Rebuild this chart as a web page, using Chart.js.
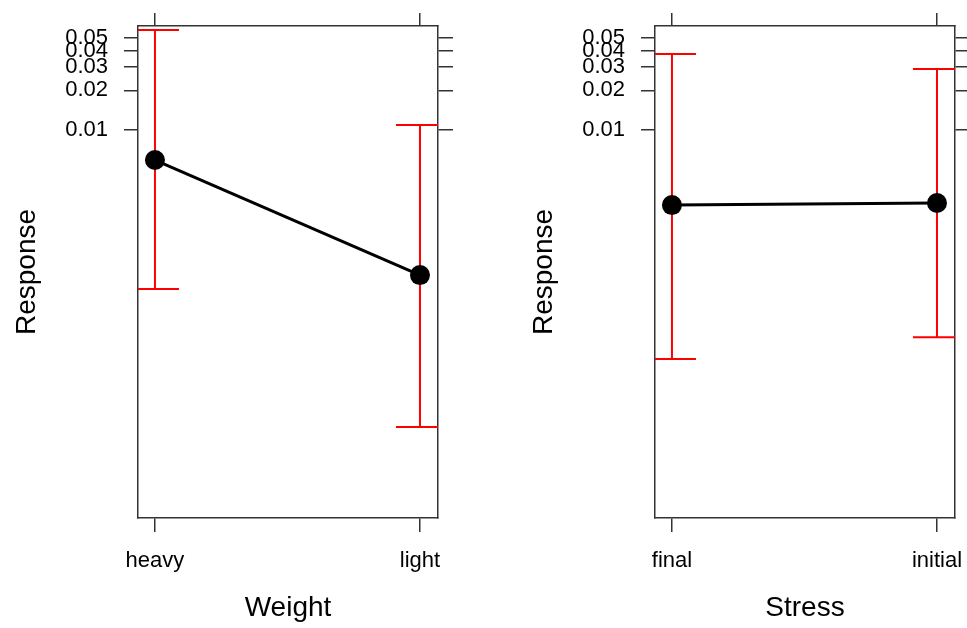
<!DOCTYPE html>
<html>
<head>
<meta charset="utf-8">
<script src="https://cdn.jsdelivr.net/npm/chart.js@4/dist/chart.umd.min.js"></script>
<style>
  html, body { margin: 0; padding: 0; background: #fff; overflow: hidden; width: 967px; height: 628px; }
  canvas { position: absolute; top: 0; }
  #c1 { left: 0; }
  #c2 { left: 517px; }
</style>
</head>
<body>
<canvas id="c1" width="517" height="628"></canvas>
<canvas id="c2" width="470" height="628"></canvas>
<script>
// ---- data ----
const weightCats = ['heavy', 'light'];
const weightFit = [0.00592, 0.000791];
const weightLower = [0.000619, 0.0000554];
const weightUpper = [0.0575, 0.0109];

const stressCats = ['final', 'initial'];
const stressFit = [0.00269, 0.00279];
const stressLower = [0.000182, 0.000267];
const stressUpper = [0.0378, 0.0291];

const yTickValues = [0.01, 0.02, 0.03, 0.04, 0.05];
const yRange = [1.13e-5, 0.0617];
const xRange = [-0.064, 1.068];
const yTitle = 'Response';

Chart.defaults.font.family = "'Liberation Sans', Arial, Helvetica, sans-serif";
Chart.defaults.color = '#000';

const AXIS = '#333';

function makePanel(id, cats, fit, lower, upper, xTitle, rightWidth) {
  const errorBars = {
    id: 'errorBars' + id,
    beforeDatasetsDraw(chart) {
      const { ctx, chartArea, scales } = chart;
      const x = scales.x, y = scales.y;
      const cap = 24;
      ctx.save();
      ctx.beginPath();
      ctx.rect(chartArea.left, chartArea.top, chartArea.right - chartArea.left, chartArea.bottom - chartArea.top);
      ctx.clip();
      ctx.strokeStyle = '#ff0000';
      ctx.lineWidth = 2;
      cats.forEach((c, i) => {
        const px = x.getPixelForValue(i);
        const yl = y.getPixelForValue(lower[i]);
        const yh = y.getPixelForValue(upper[i]);
        ctx.beginPath();
        ctx.moveTo(px, yl); ctx.lineTo(px, yh);
        ctx.moveTo(px - cap, yl); ctx.lineTo(px + cap, yl);
        ctx.moveTo(px - cap, yh); ctx.lineTo(px + cap, yh);
        ctx.stroke();
      });
      ctx.restore();
    }
  };

  const catTicks = (s) => { s.ticks = cats.map((c, i) => ({ value: i })); };
  const yTicks = (s) => { s.ticks = yTickValues.map(v => ({ value: v })); };
  const gridMarks = (len) => ({
    display: true, drawOnChartArea: false, drawTicks: true,
    tickLength: len, color: AXIS, lineWidth: 1.5
  });
  const border = { display: true, color: AXIS, width: 1.5 };
  const fixH = (h) => (s) => { s.height = h; s.paddingLeft = 0; s.paddingRight = 0; };
  const fixW = (w) => (s) => { s.width = w; s.paddingTop = 0; s.paddingBottom = 0; };

  new Chart(document.getElementById(id), {
    type: 'line',
    data: {
      datasets: [{
        data: fit.map((v, i) => ({ x: i, y: v })),
        borderColor: '#000',
        borderWidth: 3,
        pointRadius: 10,
        pointHoverRadius: 10,
        pointBackgroundColor: '#000',
        pointBorderColor: '#000',
        pointBorderWidth: 0,
        tension: 0,
        fill: false
      }]
    },
    options: {
      responsive: false,
      animation: false,
      events: [],
      layout: { padding: 0 },
      plugins: { legend: { display: false }, tooltip: { enabled: false } },
      scales: {
        x: {
          type: 'linear', position: 'bottom',
          min: xRange[0], max: xRange[1],
          afterBuildTicks: catTicks,
          afterFit: fixH(110),
          ticks: {
            callback: (v) => cats[v] !== undefined ? cats[v] : '',
            font: { size: 22 }, color: '#000', padding: 16,
            maxRotation: 0, autoSkip: false
          },
          grid: gridMarks(14),
          border: border,
          title: {
            display: true, text: xTitle, color: '#000',
            font: { size: 28, lineHeight: 1.2 },
            padding: { top: 0, bottom: 3 }
          }
        },
        x2: {
          type: 'linear', position: 'top',
          min: xRange[0], max: xRange[1],
          afterBuildTicks: catTicks,
          afterFit: fixH(26),
          ticks: { display: false },
          grid: gridMarks(13),
          border: border
        },
        y: {
          type: 'logarithmic', position: 'left',
          min: yRange[0], max: yRange[1],
          afterBuildTicks: yTicks,
          afterFit: fixW(138),
          ticks: {
            callback: (v) => String(v),
            font: { size: 22 }, color: '#000', padding: 16, autoSkip: false
          },
          grid: gridMarks(14),
          border: border,
          title: {
            display: true, text: yTitle, color: '#000',
            font: { size: 28, lineHeight: 1.2 },
            padding: { top: 10, bottom: 0 }
          }
        },
        y2: {
          type: 'logarithmic', position: 'right',
          min: yRange[0], max: yRange[1],
          afterBuildTicks: yTicks,
          afterFit: fixW(rightWidth),
          ticks: { display: false },
          grid: gridMarks(15),
          border: border
        }
      }
    },
    plugins: [errorBars]
  });
}

makePanel('c1', weightCats, weightFit, weightLower, weightUpper, 'Weight', 79);
makePanel('c2', stressCats, stressFit, stressLower, stressUpper, 'Stress', 32);
</script>
</body>
</html>
